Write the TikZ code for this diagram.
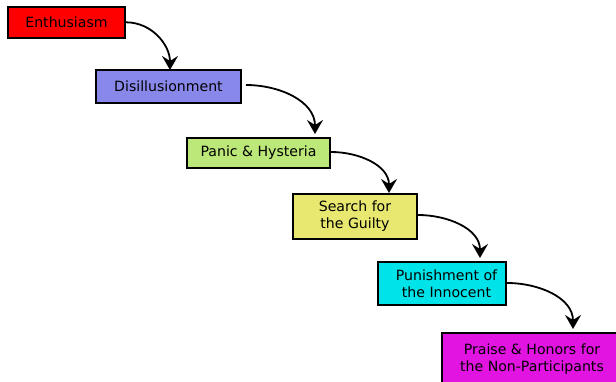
\documentclass[tikz,border=0pt]{standalone}
\usepackage{fontspec}
\setmainfont{DejaVu Sans}
\usetikzlibrary{arrows.meta}
\definecolor{cRed}{HTML}{FF0000}
\definecolor{cBlue}{HTML}{8888EA}
\definecolor{cGreen}{HTML}{BBE878}
\definecolor{cYellow}{HTML}{E8E870}
\definecolor{cCyan}{HTML}{00E3E8}
\definecolor{cMag}{HTML}{E214E2}
\begin{document}
\begin{tikzpicture}[x=1pt,y=-1pt,
  stagebox/.style={draw=black, line width=1.8pt, inner sep=0pt, align=center,
    font=\fontsize{14.1}{17}\selectfont},
  flowarrow/.style={line width=1.8pt, -{Stealth[length=14pt,width=16pt,inset=5pt]}}]
\useasboundingbox (0,0) rectangle (616,382);
\begin{scope}
\clip (0,0) rectangle (616,382);
\node[stagebox, fill=cRed, minimum width=117pt, minimum height=31pt] (b1) at (66.5,22.5) {Enthusiasm};
\node[stagebox, fill=cBlue, minimum width=145pt, minimum height=33pt] (b2) at (168.5,86.5) {Disillusionment};
\node[stagebox, fill=cGreen, minimum width=143pt, minimum height=30pt] (b3) at (258.5,153) {Panic \& Hysteria};
\node[stagebox, fill=cYellow, minimum width=124pt, minimum height=45pt] (b4) at (355,216.5) {Search for\\the Guilty};
\node[stagebox, fill=cCyan, minimum width=128pt, minimum height=43pt] (b5) at (442,283.5) {\hspace*{9pt}Punishment of\\\hspace*{9pt}the Innocent};
\node[stagebox, fill=cMag, minimum width=180pt, minimum height=52pt] (b6) at (532,359) {Praise \& Honors for\\the Non-Participants};
\end{scope}
\coordinate (s1) at (126,22.3);  \coordinate (e1) at (170,70);
\coordinate (s2) at (246,85);    \coordinate (e2) at (315,134);
\coordinate (s3) at (331,152);   \coordinate (e3) at (389,193);
\coordinate (s4) at (418,215);   \coordinate (e4) at (480,258);
\coordinate (s5) at (507,283);   \coordinate (e5) at (573,329);
\foreach \i in {1,...,5} {
  \draw[flowarrow] (s\i) to[out=0,in=90] (e\i);
}
\end{tikzpicture}
\end{document}
